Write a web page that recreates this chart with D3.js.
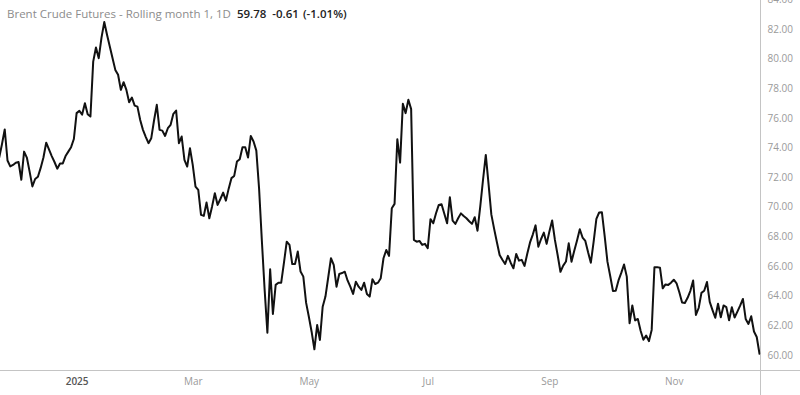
<!DOCTYPE html>
<html>
<head>
<meta charset="utf-8">
<script src="https://cdn.jsdelivr.net/npm/d3@7"></script>
<style>
  html, body { margin: 0; padding: 0; background: #fff; }
  svg { display: block; font-family: "Open Sans", "Noto Sans", sans-serif; }
</style>
</head>
<body>
<svg id="chart" width="800" height="395"></svg>
<script>
// ---- data ----
const titleText = "Brent Crude Futures - Rolling month 1, 1D";
const lastPrice = "59.78";
const change = "-0.61";
const changePct = "(-1.01%)";

// trading calendar (daily bars, weekdays minus exchange holidays)
const firstDay = "2024-11-21";
const lastDay = "2025-12-15";
const holidays = ["2024-12-25", "2025-01-01", "2025-04-18"];

// monthly x-axis labels (month index in 2025 -> label)
const xTickMonths = [0, 2, 4, 6, 8, 10];
const xTickLabels = ["2025", "Mar", "May", "Jul", "Sep", "Nov"];

// price-scale labels
const yTicks = [60, 62, 64, 66, 68, 70, 72, 74, 76, 78, 80, 82, 84];

// daily close values
const closes = [
  73.3, 74.2, 75.2, 73.1, 72.7, 72.8, 72.95, 73.0, 71.8, 73.7,
  73.3, 72.35, 71.35, 71.85, 72.0, 72.6, 73.3, 74.3, 73.85, 73.4,
  73.0, 72.55, 72.9, 72.9, 73.4, 73.7, 74.0, 74.55, 76.3, 76.45,
  76.2, 76.97, 76.23, 76.07, 79.78, 80.73, 80.01, 81.4, 82.45, 81.59,
  80.8, 80.0, 79.22, 78.89, 77.87, 78.39, 77.87, 77.04, 77.35, 76.81,
  76.74, 75.84, 75.17, 74.7, 74.27, 74.61, 75.8, 76.86, 75.17, 75.12,
  74.76, 75.28, 75.51, 76.25, 76.47, 74.27, 74.72, 73.14, 72.69, 73.93,
  72.8, 71.34, 71.11, 69.43, 69.36, 70.26, 69.2, 70.0, 70.89, 70.1,
  70.5, 70.93, 70.39, 71.2, 71.91, 72.06, 73.03, 73.19, 74.0, 74.0,
  73.3, 74.76, 74.38, 73.77, 71.2, 67.7, 64.4, 61.47, 65.76, 62.74,
  64.7, 64.85, 64.85, 66.2, 67.62, 67.4, 66.11, 66.11, 66.95, 65.6,
  65.26, 63.5, 62.55, 61.54, 60.35, 61.99, 60.98, 63.23, 63.91, 65.2,
  66.5, 66.05, 64.58, 65.44, 65.5, 65.59, 65.0, 64.58, 64.09, 64.92,
  64.58, 64.36, 64.85, 64.09, 63.91, 65.08, 64.76, 64.85, 65.15, 66.5,
  67.06, 66.66, 69.88, 70.17, 74.54, 72.96, 76.93, 76.3, 77.2, 76.57,
  67.74, 67.62, 67.67, 67.4, 67.47, 67.18, 69.14, 68.86, 69.54, 70.1,
  70.15, 69.5, 68.86, 70.62, 69.04, 68.82, 69.2, 69.53, 69.35, 69.2,
  69.0, 68.82, 69.27, 68.36, 70.0, 71.8, 73.48, 71.5, 69.46, 68.5,
  67.6, 66.72, 66.4, 66.11, 66.66, 66.2, 65.82, 66.79, 66.34, 66.39,
  65.98, 66.8, 67.57, 68.1, 68.72, 67.28, 67.8, 68.23, 67.47, 68.3,
  69.05, 67.74, 66.7, 65.59, 66.0, 66.28, 67.51, 66.27, 67.0, 67.7,
  68.46, 67.9, 67.67, 66.9, 66.2, 67.6, 69.16, 69.59, 69.6, 68.0,
  66.27, 65.3, 64.29, 64.31, 65.0, 65.51, 66.08, 65.26, 62.11, 63.31,
  62.3, 62.4, 61.6, 61.0, 61.28, 60.9, 61.66, 65.89, 65.9, 65.86,
  64.47, 64.73, 64.7, 64.85, 65.05, 64.81, 64.2, 63.51, 63.48, 63.83,
  64.3, 65.0, 62.67, 63.14, 64.16, 64.3, 64.9, 63.55, 63.0, 62.48,
  63.43, 62.51, 63.31, 63.2, 62.31, 63.19, 62.5, 62.9, 63.3, 63.75,
  62.4, 62.06, 62.58, 61.55, 61.18, 60.05
];

// ---- build trading dates ----
const parse = d3.utcParse("%Y-%m-%d");
const fmt = d3.utcFormat("%Y-%m-%d");
const allDays = d3.utcDay.range(parse(firstDay), d3.utcDay.offset(parse(lastDay), 1));
const dates = allDays.filter(d => d.getUTCDay() !== 0 && d.getUTCDay() !== 6 && !holidays.includes(fmt(d)));
const data = closes.map((v, i) => ({ i, date: dates[i], v }));

// ---- layout ----
const W = 800, H = 395;
const axisX = 760.5;     // price scale border
const axisY = 370.5;     // time scale border

const svg = d3.select("#chart");

const x = d3.scaleLinear().domain([0, closes.length - 1]).range([-0.8, 759.5]);
const y = d3.scaleLinear().domain([60, 84]).range([354.5, -0.9]);

// borders
svg.append("line")
  .attr("x1", 0).attr("x2", W).attr("y1", axisY).attr("y2", axisY)
  .attr("stroke", "#c4c4c4").attr("stroke-width", 1);
svg.append("line")
  .attr("x1", axisX).attr("x2", axisX).attr("y1", 0).attr("y2", H)
  .attr("stroke", "#c4c4c4").attr("stroke-width", 1);

// price line
const plot = svg.append("g");
plot.append("clipPath").attr("id", "clip")
  .append("rect").attr("x", 0).attr("y", 0).attr("width", axisX).attr("height", axisY);
plot.append("path")
  .datum(data)
  .attr("clip-path", "url(#clip)")
  .attr("fill", "none")
  .attr("stroke", "#111")
  .attr("stroke-width", 2)
  .attr("stroke-linejoin", "round")
  .attr("stroke-linecap", "round")
  .attr("d", d3.line().x(d => x(d.i)).y(d => y(d.v)));

// y axis labels (right)
const yAxis = d3.axisRight(y).tickValues(yTicks).tickSize(0).tickPadding(0)
  .tickFormat(d3.format(".2f"));
const gy = svg.append("g").attr("transform", `translate(767.5,0)`).call(yAxis);
gy.select(".domain").remove();
gy.selectAll("text")
  .attr("x", 0).attr("dy", "0.35em")
  .attr("fill", "#9a9a9a")
  .style("font-size", "10px")
  .style("font-family", '"Open Sans", sans-serif');

// x axis labels (bottom)
const tickIdx = xTickMonths.map(m => dates.findIndex(d => d.getUTCFullYear() === 2025 && d.getUTCMonth() === m));
const xAxis = d3.axisBottom(x).tickValues(tickIdx).tickSize(0).tickPadding(0)
  .tickFormat((d, k) => xTickLabels[k]);
const gx = svg.append("g").attr("transform", `translate(0,378)`).call(xAxis);
gx.select(".domain").remove();
gx.selectAll("text")
  .attr("y", 0).attr("dy", "0.71em")
  .attr("fill", (d, k) => k === 0 ? "#555" : "#9a9a9a")
  .style("font-weight", (d, k) => k === 0 ? "600" : "400")
  .style("font-size", "10px")
  .style("font-family", '"Open Sans", sans-serif');

// title / legend
const t = svg.append("text")
  .attr("x", 7).attr("y", 18)
  .style("font-size", "11.5px");
t.append("tspan").attr("fill", "#8c8c8c").text(titleText);
t.append("tspan").attr("dx", 6).attr("fill", "#222").style("font-weight", 600).text(lastPrice);
t.append("tspan").attr("dx", 6).attr("fill", "#222").style("font-weight", 600).text(change);
t.append("tspan").attr("dx", 4).attr("fill", "#222").style("font-weight", 600).text(changePct);
</script>
</body>
</html>
